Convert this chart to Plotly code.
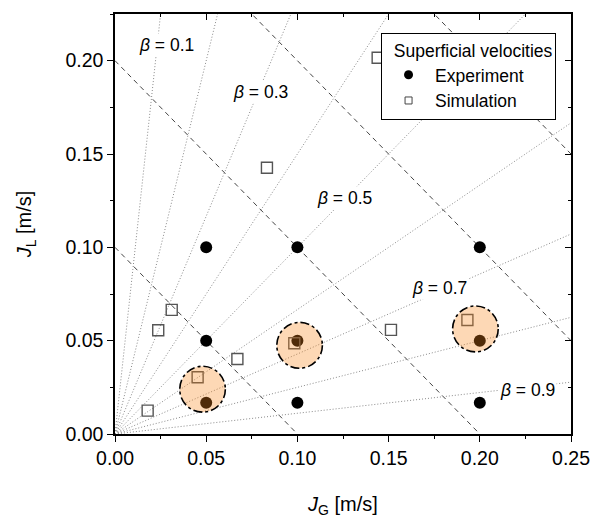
import plotly.graph_objects as go
import numpy as np

# ---- data ----
exp_jg = [0.05, 0.10, 0.20, 0.05, 0.10, 0.20, 0.05, 0.10, 0.20]
exp_jl = [0.10, 0.10, 0.10, 0.05, 0.05, 0.05, 0.0167, 0.0167, 0.0167]

sim_jg = [0.144, 0.0833, 0.0311, 0.0237, 0.0671, 0.0453, 0.0179, 0.0983, 0.1513, 0.1932]
sim_jl = [0.2016, 0.1426, 0.0665, 0.0556, 0.0402, 0.0304, 0.0125, 0.0486, 0.0558, 0.0611]

# constant total superficial velocity lines J_G + J_L = J
total_j = [0.1, 0.2, 0.3, 0.4]
# constant volumetric quality lines beta = J_G/(J_G+J_L)
betas = [0.1, 0.2, 0.3, 0.4, 0.5, 0.6, 0.7, 0.8, 0.9]
beta_labels = [0.1, 0.3, 0.5, 0.7, 0.9]
beta_label_x = [0.0285, 0.0795, 0.126, 0.178, 0.2264]
beta_label_y = [0.2086, 0.1834, 0.1265, 0.078, 0.0236]

# highlighted cases (circles)
hl_x = [0.048, 0.1012, 0.1976]
hl_y = [0.024, 0.0475, 0.0563]
hl_rx = 0.0125
hl_ry = 0.0123

XR = [0, 0.25]
YR = [0, 0.225]
FONT = "Liberation Sans, Arial, sans-serif"

fig = go.Figure()

for j in total_j:
    xs = np.array([0.0, j])
    fig.add_trace(go.Scatter(x=xs, y=j - xs, mode="lines", showlegend=False,
                             hoverinfo="skip",
                             line=dict(color="#444444", width=1, dash="5px,4px")))
for b in betas:
    xs = np.array([0.0, 1.0])
    fig.add_trace(go.Scatter(x=xs, y=xs * (1 - b) / b, mode="lines", showlegend=False,
                             hoverinfo="skip",
                             line=dict(color="#8a8a8a", width=1, dash="1px,2px")))

fig.add_trace(go.Scatter(x=exp_jg, y=exp_jl, mode="markers", showlegend=False,
                         marker=dict(symbol="circle", size=12, color="black")))
fig.add_trace(go.Scatter(x=sim_jg, y=sim_jl, mode="markers", showlegend=False,
                         marker=dict(symbol="square-open", size=11, color="#555555",
                                     line=dict(width=1.4))))

# legend-only entries
fig.add_trace(go.Scatter(x=[None], y=[None], mode="markers", name="Experiment",
                         marker=dict(symbol="circle", size=9, color="black")))
fig.add_trace(go.Scatter(x=[None], y=[None], mode="markers", name="Simulation",
                         marker=dict(symbol="square-open", size=7, color="#444444",
                                     line=dict(width=1))))

# helper trace for mirrored (inward) ticks on top/right
fig.add_trace(go.Scatter(x=[None], y=[None], xaxis="x2", yaxis="y2", showlegend=False))

for cx, cy in zip(hl_x, hl_y):
    fig.add_shape(type="circle", xref="x", yref="y",
                  x0=cx - hl_rx, x1=cx + hl_rx, y0=cy - hl_ry, y1=cy + hl_ry,
                  fillcolor="rgba(250,133,24,0.32)",
                  line=dict(color="black", width=1.6, dash="dashdot"), layer="above")

for b, lx, ly in zip(beta_labels, beta_label_x, beta_label_y):
    fig.add_annotation(x=lx, y=ly, xref="x", yref="y", text=f"<i>β</i> = {b}",
                       showarrow=False, bgcolor="white", borderpad=1,
                       font=dict(family=FONT, size=17.5, color="black"))

tickfont = dict(family=FONT, size=19.5, color="black")
titlefont = dict(family=FONT, size=20, color="black")
fig.update_layout(
    width=594, height=518,
    margin=dict(l=115, r=23, t=14, b=84),
    plot_bgcolor="white", paper_bgcolor="white",
    font=dict(family=FONT, color="black"),
    xaxis=dict(range=XR, dtick=0.05, tickformat=".2f", showgrid=False, zeroline=False,
               showline=True, linecolor="black", linewidth=1.5, mirror=True,
               ticks="outside", ticklen=6, tickwidth=1.3, tickcolor="black",
               minor=dict(dtick=0.025, ticks="outside", ticklen=3, tickwidth=1.3, tickcolor="black"),
               tickfont=tickfont, automargin=False,
               title=dict(text="<i>J</i><sub>G</sub> [m/s]", font=titlefont, standoff=31)),
    yaxis=dict(range=YR, dtick=0.05, tickformat=".2f", showgrid=False, zeroline=False,
               showline=True, linecolor="black", linewidth=1.5, mirror=True,
               ticks="outside", ticklen=6, tickwidth=1.3, tickcolor="black",
               minor=dict(dtick=0.025, ticks="outside", ticklen=3, tickwidth=1.3, tickcolor="black"),
               tickfont=tickfont, automargin=False,
               title=dict(text="<i>J</i><sub>L</sub> [m/s]", font=titlefont, standoff=28)),
    xaxis2=dict(range=XR, overlaying="x", side="top", anchor="y2", dtick=0.05,
                showticklabels=False, showgrid=False, zeroline=False, showline=False,
                ticks="inside", ticklen=6, tickwidth=1.3, tickcolor="black",
                minor=dict(dtick=0.025, ticks="inside", ticklen=3, tickwidth=1.3, tickcolor="black")),
    yaxis2=dict(range=YR, overlaying="y", side="right", anchor="x2", dtick=0.05,
                showticklabels=False, showgrid=False, zeroline=False, showline=False,
                ticks="inside", ticklen=6, tickwidth=1.3, tickcolor="black",
                minor=dict(dtick=0.025, ticks="inside", ticklen=3, tickwidth=1.3, tickcolor="black")),
    legend=dict(x=0.583, y=0.955, xanchor="left", yanchor="top",
                bgcolor="white", bordercolor="black", borderwidth=1.2,
                font=dict(family=FONT, size=17.5), tracegroupgap=0, itemwidth=43,
                title=dict(text="\u00a0\u00a0Superficial velocities",
                           font=dict(family=FONT, size=17.5))),
)

fig.write_html("out.html")
